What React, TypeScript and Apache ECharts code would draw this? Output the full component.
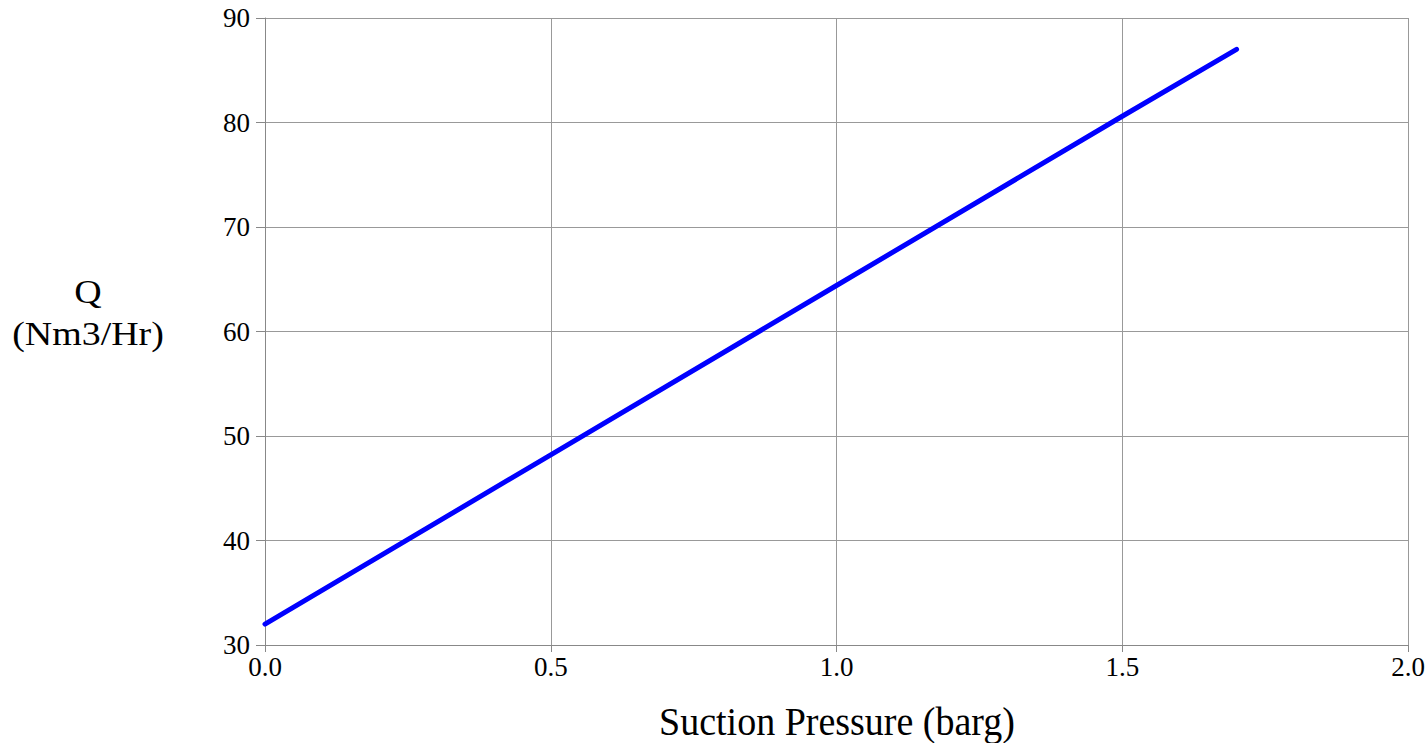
import React, { useEffect, useRef } from "react";
import * as echarts from "echarts";

const suctionPressure = [0.0, 0.5, 1.0, 1.5, 1.7];
const flowQ = [32.0, 48.2, 64.4, 80.6, 87.0];
const xTitle = "Suction Pressure (barg)";
const yTitleLines = ["Q", "(Nm3/Hr)"];

export default function App() {
  const ref = useRef<HTMLDivElement>(null);
  useEffect(() => {
    if (!ref.current) return;
    const chart = echarts.init(ref.current, null, { renderer: "svg" });
    const font = "'Liberation Serif', 'Times New Roman', serif";
    chart.setOption({
      animation: false,
      backgroundColor: "#ffffff",
      grid: { left: 265, right: 20, top: 18, bottom: 98, containLabel: false },
      xAxis: {
        type: "value",
        min: 0,
        max: 2,
        interval: 0.5,
        axisLine: { show: true, lineStyle: { color: "#888888", width: 1 } },
        axisTick: { show: true, length: 7, lineStyle: { color: "#888888" } },
        splitLine: { show: true, lineStyle: { color: "#999999", width: 1 } },
        axisLabel: {
          color: "#000000",
          fontFamily: font,
          fontSize: 27,
          margin: 8,
          formatter: (v: number) => v.toFixed(1),
        },
      },
      yAxis: {
        type: "value",
        min: 30,
        max: 90,
        interval: 10,
        axisLine: { show: true, lineStyle: { color: "#888888", width: 1 } },
        axisTick: { show: true, length: 9, lineStyle: { color: "#888888" } },
        splitLine: { show: true, lineStyle: { color: "#999999", width: 1 } },
        axisLabel: {
          color: "#000000",
          fontFamily: font,
          fontSize: 27,
          margin: 15,
        },
      },
      graphic: [
        {
          type: "text",
          x: 837,
          y: 701,
          scaleX: 0.95,
          style: {
            text: xTitle,
            align: "center",
            verticalAlign: "top",
            fontFamily: font,
            fontSize: 40,
            fill: "#000000",
          },
        },
        {
          type: "text",
          x: 88,
          y: 271,
          scaleX: 1.15,
          style: {
            text: yTitleLines.join("\n"),
            align: "center",
            verticalAlign: "top",
            fontFamily: font,
            fontSize: 33,
            lineHeight: 42,
            fill: "#000000",
          },
        },
      ],
      series: [
        {
          type: "line",
          data: suctionPressure.map((x, i) => [x, flowQ[i]]),
          showSymbol: false,
          lineStyle: { color: "#0000ff", width: 5, cap: "round" },
        },
      ],
    });
    return () => chart.dispose();
  }, []);
  return (
    <div
      ref={ref}
      style={{ position: "fixed", left: 0, top: 0, width: 1428, height: 743 }}
    />
  );
}
